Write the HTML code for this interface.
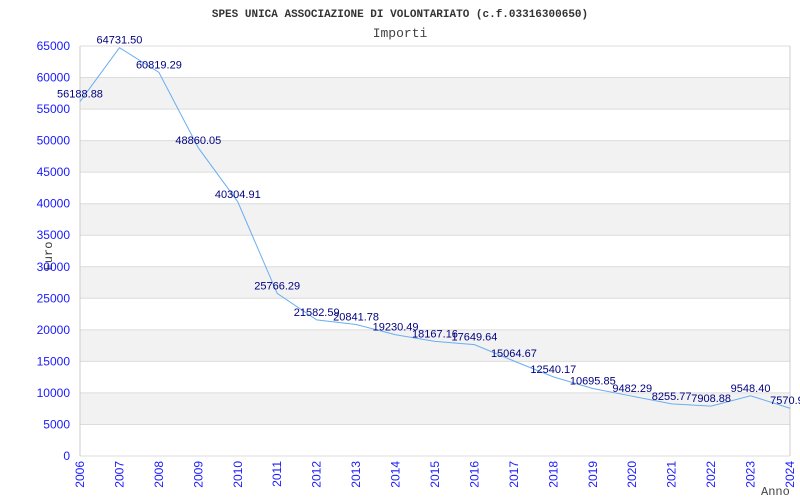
<!DOCTYPE html>
<html><head><meta charset="utf-8"><style>
body{margin:0;background:#fff}
svg{display:block}
text{font-family:"Liberation Sans",sans-serif}
</style></head><body>
<svg id="chart" width="800" height="500">
<text x="400" y="17" text-anchor="middle" style="font-family:'Liberation Mono',monospace;font-size:11px;font-weight:bold" fill="#333">SPES UNICA ASSOCIAZIONE DI VOLONTARIATO (c.f.03316300650)</text>
<text x="400" y="37" text-anchor="middle" style="font-family:'Liberation Mono',monospace;font-size:13px" fill="#444">Importi</text>
<text transform="translate(52,256) rotate(-90)" text-anchor="middle" style="font-family:'Liberation Mono',monospace;font-size:12px" fill="#333">Euro</text>
<text x="761" y="495" style="font-family:'Liberation Mono',monospace;font-size:12px" fill="#444">Anno</text>
<g id="grid"></g><g id="marks"></g>
</svg>
<script>
const years=[2006,2007,2008,2009,2010,2011,2012,2013,2014,2015,2016,2017,2018,2019,2020,2021,2022,2023,2024];
const values=[56188.88,64731.50,60819.29,48860.05,40304.91,25766.29,21582.59,20841.78,19230.49,18167.16,17649.64,15064.67,12540.17,10695.85,9482.29,8255.77,7908.88,9548.40,7570.9];
const valueLabels=["56188.88","64731.50","60819.29","48860.05","40304.91","25766.29","21582.59","20841.78","19230.49","18167.16","17649.64","15064.67","12540.17","10695.85","9482.29","8255.77","7908.88","9548.40","7570.90"];
const yTicks=[0,5000,10000,15000,20000,25000,30000,35000,40000,45000,50000,55000,60000,65000];
const L=80,R=790,T=46,B=456;
const xs=y=>L+(y-years[0])/(years[years.length-1]-years[0])*(R-L);
const ys=v=>B-v/65000*(B-T);
const NS="http://www.w3.org/2000/svg";
const g=document.getElementById('grid'),m=document.getElementById('marks');
function mk(p,tag,a){const e=document.createElementNS(NS,tag);for(const k in a)e.setAttribute(k,a[k]);p.appendChild(e);return e;}
for(let i=0;i<yTicks.length-1;i++){
  if(i%2==1){const r=mk(g,'rect',{x:L,y:ys(yTicks[i+1]),width:R-L,height:ys(yTicks[i])-ys(yTicks[i+1]),fill:'#f2f2f2'});
  
  }
}
yTicks.forEach(v=>{
  const l=mk(g,'line',{x1:L,x2:R,y1:ys(v),y2:ys(v),stroke:'#dcdcdc'});
  
  
  const t=mk(g,'text',{x:L-10,y:ys(v)+4,'text-anchor':'end','font-size':12,fill:'#1a1aff'});t.textContent=v;
  
  
});
mk(g,'line',{x1:L,x2:L,y1:T,y2:B,stroke:'#ccc'});
mk(g,'line',{x1:R,x2:R,y1:T,y2:B,stroke:'#ccc'});
years.forEach(y=>{
  const t=mk(g,'text',{transform:`translate(${xs(y)+4},461) rotate(-90)`,'text-anchor':'end','font-size':12,fill:'#1a1aff'});t.textContent=y;
  
  
});
const pl=mk(m,'polyline',{points:years.map((y,i)=>xs(y)+','+ys(values[i])).join(' '),fill:'none',stroke:'#6aaef0','stroke-width':1});


years.forEach((y,i)=>{
  const t=mk(m,'text',{x:xs(y),y:ys(values[i])-4,'text-anchor':'middle','font-size':11,fill:'#000080'});t.textContent=valueLabels[i];
  
  
});
</script>
</body></html>
